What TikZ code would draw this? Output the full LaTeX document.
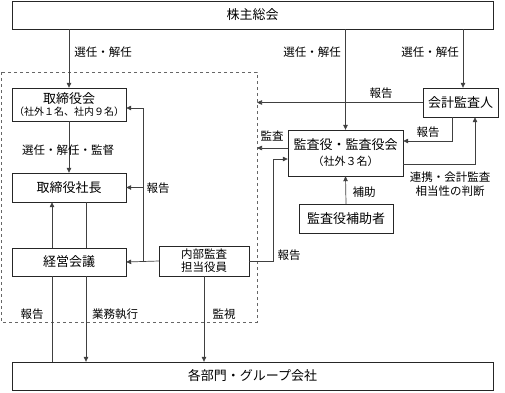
\documentclass[tikz,border=0pt]{standalone}
\usepackage{fontspec}
\setmainfont{Noto Sans CJK JP}
\usetikzlibrary{arrows.meta}

\begin{document}
\begin{tikzpicture}[x=1pt, y=-1pt,
    box/.style={draw=black!85, fill=white, inner sep=0pt, align=center, font=\fontsize{13}{15}\selectfont},
    lbl/.style={font=\fontsize{11.5}{14}\selectfont, align=center},
    ln/.style={draw=black!75, line width=0.7pt},
    arr/.style={ln, -{Triangle[length=5pt, width=4.5pt]}}]
  \useasboundingbox (0,0) rectangle (505,392);

  % Boxes
  \node[box, minimum width=481pt, minimum height=28pt] (soukai) at (252.5,15) {株主総会};
  \node[box, minimum width=114pt, minimum height=33pt] (torishimari) at (69,104.5)
    {取締役会\\[-3pt]{\fontsize{10}{11}\selectfont（社外１名、社内９名）}};
  \node[box, minimum width=114pt, minimum height=29pt] (shacho) at (69,187.5) {取締役社長};
  \node[box, minimum width=114pt, minimum height=28pt] (keiei) at (69,262) {経営会議};
  \node[box, minimum width=90pt, minimum height=30pt, font=\fontsize{11.5}{13}\selectfont] (naibu) at (204,261) {内部監査\\担当役員};
  \node[box, minimum width=115pt, minimum height=46pt] (kansayaku) at (345.5,153)
    {監査役・監査役会\\[1pt]{\fontsize{11}{12}\selectfont（社外３名）}};
  \node[box, minimum width=75pt, minimum height=29pt] (kaikei) at (460.5,102.5) {会計監査人};
  \node[box, minimum width=94pt, minimum height=29pt] (hojo) at (346,218.5) {監査役補助者};
  \node[box, minimum width=481pt, minimum height=28pt] (bumon) at (252.5,376) {各部門・グループ会社};

  % Dashed frame around the executive side
  \draw[black!60, dashed, line width=0.7pt] (1,72) rectangle (257,322);
  \coordinate (frameE) at (257,0);

  % Shareholders' meeting
  \draw[arr] (soukai.south -| torishimari.north) -- (torishimari.north);
  \node[lbl] (l1) at (103,52) {選任・解任};
  \draw[arr] (soukai.south -| kansayaku.north) -- (kansayaku.north);
  \node[lbl] (l2) at (312,52) {選任・解任};
  \draw[arr] (soukai.south -| 463,0) -- (kaikei.north -| 463,0);
  \node[lbl] (l3) at (430,52) {選任・解任};

  % Board and president
  \draw[arr] (torishimari.south) -- (shacho.north);
  \node[lbl] (l4) at (68,150) {選任・解任・監督};
  \draw[arr] ([xshift=-17pt]keiei.north) -- ([xshift=-17pt]shacho.south);
  \draw[ln] ([xshift=17pt]shacho.south) -- ([xshift=17pt]keiei.north);
  \draw[ln] ([xshift=-17pt]keiei.south) -- ([xshift=-17pt]keiei.south |- bumon.north);
  \draw[arr] ([xshift=17pt]keiei.south) -- ([xshift=17pt]keiei.south |- bumon.north);
  \node[lbl] (l5) at (32,314) {報告};
  \node[lbl] (l6) at (115,314) {業務執行};

  % Internal audit
  \coordinate (jn) at (143,262);
  \coordinate (jt) at (143,108);
  \draw[arr] (naibu.west) -- (keiei.east);
  \draw[ln] (jn) -- (jt);
  \draw[arr] (jt) -- (torishimari.east |- jt);
  \draw[arr] (jn |- shacho.east) -- (shacho.east);
  \node[lbl] (l7) at (158,188) {報告};
  \draw[arr] (naibu.south) -- (naibu.south |- bumon.north);
  \node[lbl] (l8) at (224,314) {監視};
  \draw[arr] (naibu.east) -- (273,261) -- (273,159) -- (kansayaku.west |- 0,159);
  \node[lbl] (l9) at (289,255) {報告};

  % Auditors
  \draw[arr] (kansayaku.west |- 0,148) -- (frameE |- 0,148);
  \node[lbl] (l10) at (272,136) {監査};
  \draw[arr] (kaikei.west) -- (frameE |- kaikei.west);
  \node[lbl] (l11) at (381,93) {報告};
  \draw[arr] (kaikei.south -| 452,0) -- (452,141) -- (kansayaku.east |- 0,141);
  \node[lbl] (l12) at (428,132) {報告};
  \draw[arr] (kansayaku.east |- 0,164) -- (475,164) -- (kaikei.south -| 475,0);
  \node[lbl] (l13) at (450,184) {連携・会計監査\\相当性の判断};
  \draw[arr] (hojo.north) -- (kansayaku.south);
  \node[lbl] (l14) at (364,192) {補助};
\end{tikzpicture}
\end{document}
